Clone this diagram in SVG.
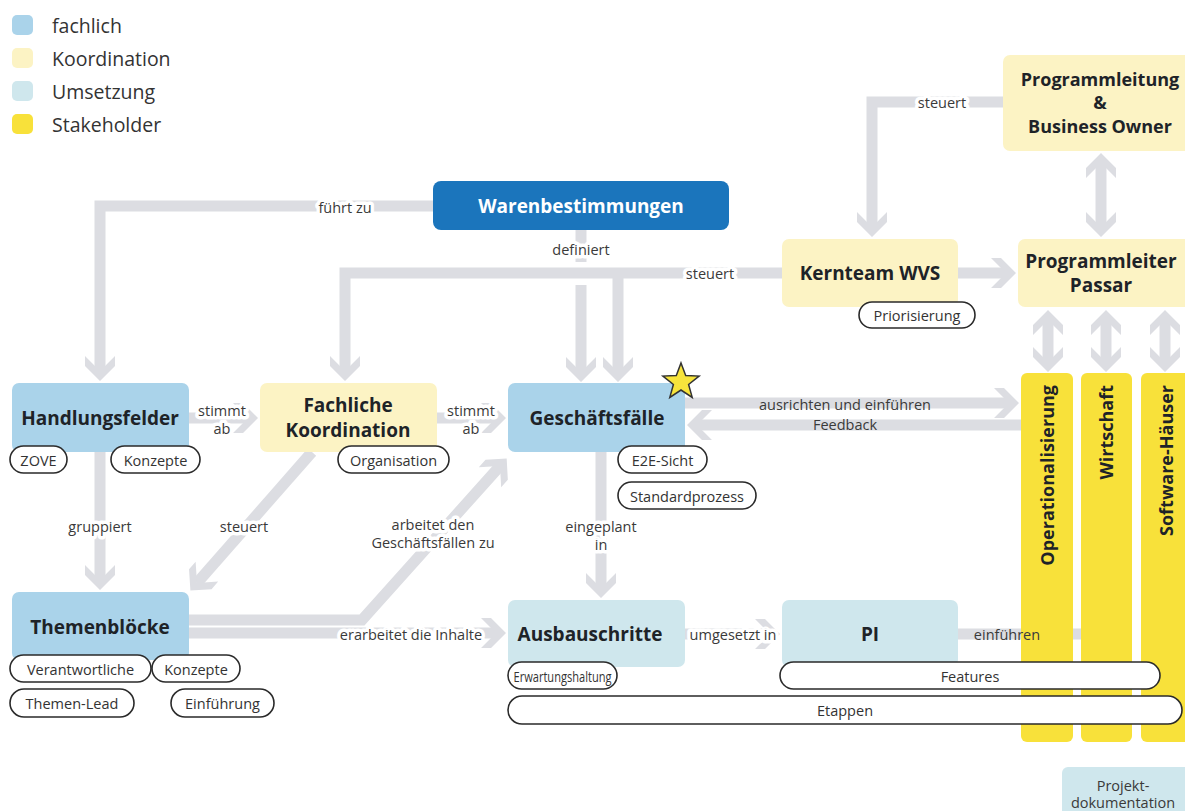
<svg xmlns="http://www.w3.org/2000/svg" width="1185" height="811" viewBox="0 0 1185 811">
<style>
text{font-family:"Open Sans","Liberation Sans",sans-serif;fill:#2a2a2a}
.c{fill:none;stroke:#dcdde2;stroke-width:11;stroke-linejoin:miter}
.a{marker-end:url(#ah)}
.b{marker-start:url(#ah);marker-end:url(#ah)}
.fach{fill:#aad3ea}
.koord{fill:#fcf3c4}
.ums{fill:#cfe7ed}
.stake{fill:#f8e13a}
.t{font-size:19px;font-weight:700;text-anchor:middle;dominant-baseline:central;fill:#1e2328}
.t2{font-size:18px;font-weight:700;text-anchor:middle;dominant-baseline:central;fill:#1e2328}
.lbl{font-size:14.5px;text-anchor:middle;dominant-baseline:central;fill:#3a3a3a;stroke:#fff;stroke-width:7px;paint-order:stroke;stroke-linejoin:round}
.lb2{font-size:14.5px;text-anchor:middle;dominant-baseline:central;fill:#3a3a3a}
.chip rect{fill:#fff;stroke:#2a2a2a;stroke-width:1.6}
.chip text{font-size:14.5px;text-anchor:middle;dominant-baseline:central;fill:#333}
.leg{font-size:19.5px;fill:#333;dominant-baseline:central}
.v{font-size:18px;font-weight:700;text-anchor:end;dominant-baseline:central;fill:#1e2328}
</style>
<defs>
<marker id="ah" markerUnits="userSpaceOnUse" markerWidth="30" markerHeight="32" viewBox="-16 -16 30 32" refX="0" refY="0" orient="auto-start-reverse" overflow="visible">
<path d="M10,0 L-5,-15 L-15,-15 L0,0 L-15,15 L-5,15 Z" fill="#dcdde2"/>
</marker>
</defs>
<rect width="1185" height="811" fill="#fff"/>

<g id="legend">
<rect x="12" y="15" width="21" height="20" rx="5" class="fach"/><text x="52" y="25" class="leg">fachlich</text>
<rect x="12" y="48" width="21" height="20" rx="5" class="koord"/><text x="52" y="58" class="leg">Koordination</text>
<rect x="12" y="81" width="21" height="20" rx="5" class="ums"/><text x="52" y="91" class="leg">Umsetzung</text>
<rect x="12" y="114" width="21" height="20" rx="5" class="stake"/><text x="52" y="124" class="leg">Stakeholder</text>
</g>

<g id="connectors">
<path class="c a" d="M433,206 H100 V371"/>
<path class="c" d="M581,230 V262"/>
<path class="c a" d="M581,285 V372"/>
<path class="c a" d="M782,273 H345 V371"/>
<path class="c a" d="M618,278 V372"/>
<path class="c a" d="M1003,102 H872 V227"/>
<path class="c a" d="M958,273 H1006"/>
<path class="c b" d="M1101,163 V227"/>
<path class="c b" d="M1048,320 V362"/>
<path class="c b" d="M1106,320 V362"/>
<path class="c b" d="M1165,320 V362"/>
<path class="c a" d="M189,418 H248"/>
<path class="c a" d="M437,418 H496"/>
<path class="c a" d="M100,452 V580"/>
<path class="c a" d="M312,452 L197,583"/>
<path class="c a" d="M189,620 H362 L500,466"/>
<path class="c a" d="M189,633 H496"/>
<path class="c a" d="M601,452 V588"/>
<path class="c a" d="M685,634 H770"/>
<path class="c" d="M958,634 H1085"/>
<path class="c a" d="M685,403 H1009"/>
<path class="c a" d="M1021,425 H697"/>
</g>

<g id="n-programmleitung">
<rect x="1003" y="55" width="190" height="96" rx="7" class="koord"/>
<text x="1100" y="79" class="t2">Programmleitung</text>
<text x="1100" y="102" class="t2">&amp;</text>
<text x="1100" y="126" class="t2">Business Owner</text>
</g>
<g id="n-kernteam">
<rect x="782" y="239" width="176" height="68" rx="7" class="koord"/>
<text x="870" y="273" class="t">Kernteam WVS</text>
<g class="chip"><rect x="859" y="302" width="116" height="26" rx="13"/><text x="917" y="315">Priorisierung</text></g>
</g>
<g id="n-passar">
<rect x="1018" y="239" width="175" height="68" rx="7" class="koord"/>
<text x="1101" y="261" class="t">Programmleiter</text>
<text x="1101" y="285" class="t">Passar</text>
</g>
<g id="n-warenbestimmungen">
<rect x="433" y="181" width="296" height="49" rx="8" fill="#1b75bc"/>
<text x="581" y="206" class="t" style="fill:#fff">Warenbestimmungen</text>
</g>
<g id="n-handlungsfelder">
<rect x="12" y="383" width="177" height="69" rx="7" class="fach"/>
<text x="100" y="418" class="t">Handlungsfelder</text>
<g class="chip"><rect x="10" y="446" width="57" height="27" rx="13.5"/><text x="38.5" y="460">ZOVE</text></g>
<g class="chip"><rect x="111" y="446" width="89" height="27" rx="13.5"/><text x="155.5" y="460">Konzepte</text></g>
</g>
<g id="n-fachliche-koordination">
<rect x="260" y="383" width="177" height="69" rx="7" class="koord"/>
<text x="348" y="405" class="t">Fachliche</text>
<text x="348" y="430" class="t">Koordination</text>
<g class="chip"><rect x="338" y="446" width="111" height="27" rx="13.5"/><text x="393.5" y="460">Organisation</text></g>
</g>
<g id="n-geschaeftsfaelle">
<rect x="508" y="383" width="177" height="69" rx="7" class="fach"/>
<text x="597" y="418" class="t">Geschäftsfälle</text>
<polygon points="681,363 685.7,375.5 699.1,376.1 688.6,384.5 692.2,397.4 681,390 669.8,397.4 673.4,384.5 662.9,376.1 676.3,375.5" fill="#f7e43c" stroke="#333" stroke-width="1.5" stroke-linejoin="miter"/>
<g class="chip"><rect x="618" y="446" width="89" height="27" rx="13.5"/><text x="662.5" y="460">E2E-Sicht</text></g>
<g class="chip"><rect x="618" y="482" width="138" height="27" rx="13.5"/><text x="687" y="496">Standardprozess</text></g>
</g>
<g id="n-themenbloecke">
<rect x="12" y="592" width="177" height="68" rx="7" class="fach"/>
<text x="100" y="627" class="t">Themenblöcke</text>
<g class="chip"><rect x="10" y="655" width="141" height="27" rx="13.5"/><text x="80.5" y="669">Verantwortliche</text></g>
<g class="chip"><rect x="152" y="655" width="88" height="27" rx="13.5"/><text x="196" y="669">Konzepte</text></g>
<g class="chip"><rect x="10" y="689" width="124" height="28" rx="14"/><text x="72" y="703">Themen-Lead</text></g>
<g class="chip"><rect x="171" y="689" width="103" height="28" rx="14"/><text x="222.5" y="703">Einführung</text></g>
</g>
<g id="n-ausbauschritte">
<rect x="508" y="600" width="177" height="67" rx="7" class="ums"/>
<text x="590" y="634" class="t">Ausbauschritte</text>
</g>
<g id="n-pi">
<rect x="782" y="600" width="176" height="67" rx="7" class="ums"/>
<text x="870" y="634" class="t">PI</text>
</g>
<g id="n-operationalisierung">
<rect x="1021" y="373" width="52" height="369" rx="6" class="stake"/>
<text transform="translate(1047,385) rotate(-90)" class="v">Operationalisierung</text>
</g>
<g id="n-wirtschaft">
<rect x="1081" y="373" width="51" height="369" rx="6" class="stake"/>
<text transform="translate(1106,385) rotate(-90)" class="v">Wirtschaft</text>
</g>
<g id="n-softwarehaeuser">
<rect x="1141" y="373" width="52" height="369" rx="6" class="stake"/>
<text transform="translate(1166,385) rotate(-90)" class="v">Software-Häuser</text>
</g>
<g id="n-chips-bottom">
<g class="chip"><rect x="508" y="662" width="109" height="27" rx="13.5"/><text x="562.5" y="676" textLength="98" lengthAdjust="spacingAndGlyphs">Erwartungshaltung</text></g>
<g class="chip"><rect x="780" y="662" width="380" height="27" rx="13.5"/><text x="970" y="676">Features</text></g>
<g class="chip"><rect x="508" y="696" width="674" height="28" rx="14"/><text x="845" y="710">Etappen</text></g>
</g>
<g id="n-projektdoku">
<rect x="1062" y="767" width="131" height="50" rx="6" class="ums"/>
<text x="1123" y="785" class="lb2">Projekt-</text>
<text x="1123" y="802" class="lb2">dokumentation</text>
</g>

<g id="labels">
<text x="345" y="207" class="lbl">führt zu</text>
<text x="581" y="249" class="lbl">definiert</text>
<text x="710" y="273" class="lbl">steuert</text>
<text x="942" y="102" class="lbl">steuert</text>
<text x="222" y="410" class="lbl">stimmt</text>
<text x="222" y="428" class="lbl">ab</text>
<text x="471" y="410" class="lbl">stimmt</text>
<text x="471" y="428" class="lbl">ab</text>
<text x="100" y="526" class="lbl">gruppiert</text>
<text x="244" y="526" class="lbl">steuert</text>
<text x="433" y="524" class="lbl">arbeitet den</text>
<text x="433" y="542" class="lbl">Geschäftsfällen zu</text>
<text x="411" y="634" class="lbl">erarbeitet die Inhalte</text>
<text x="601" y="526" class="lbl">eingeplant</text>
<text x="601" y="544" class="lbl">in</text>
<text x="733" y="634" class="lbl">umgesetzt in</text>
<text x="1007" y="634" class="lb2">einführen</text>
<text x="845" y="404" class="lb2">ausrichten und einführen</text>
<text x="845" y="424" class="lb2">Feedback</text>
</g>
</svg>
